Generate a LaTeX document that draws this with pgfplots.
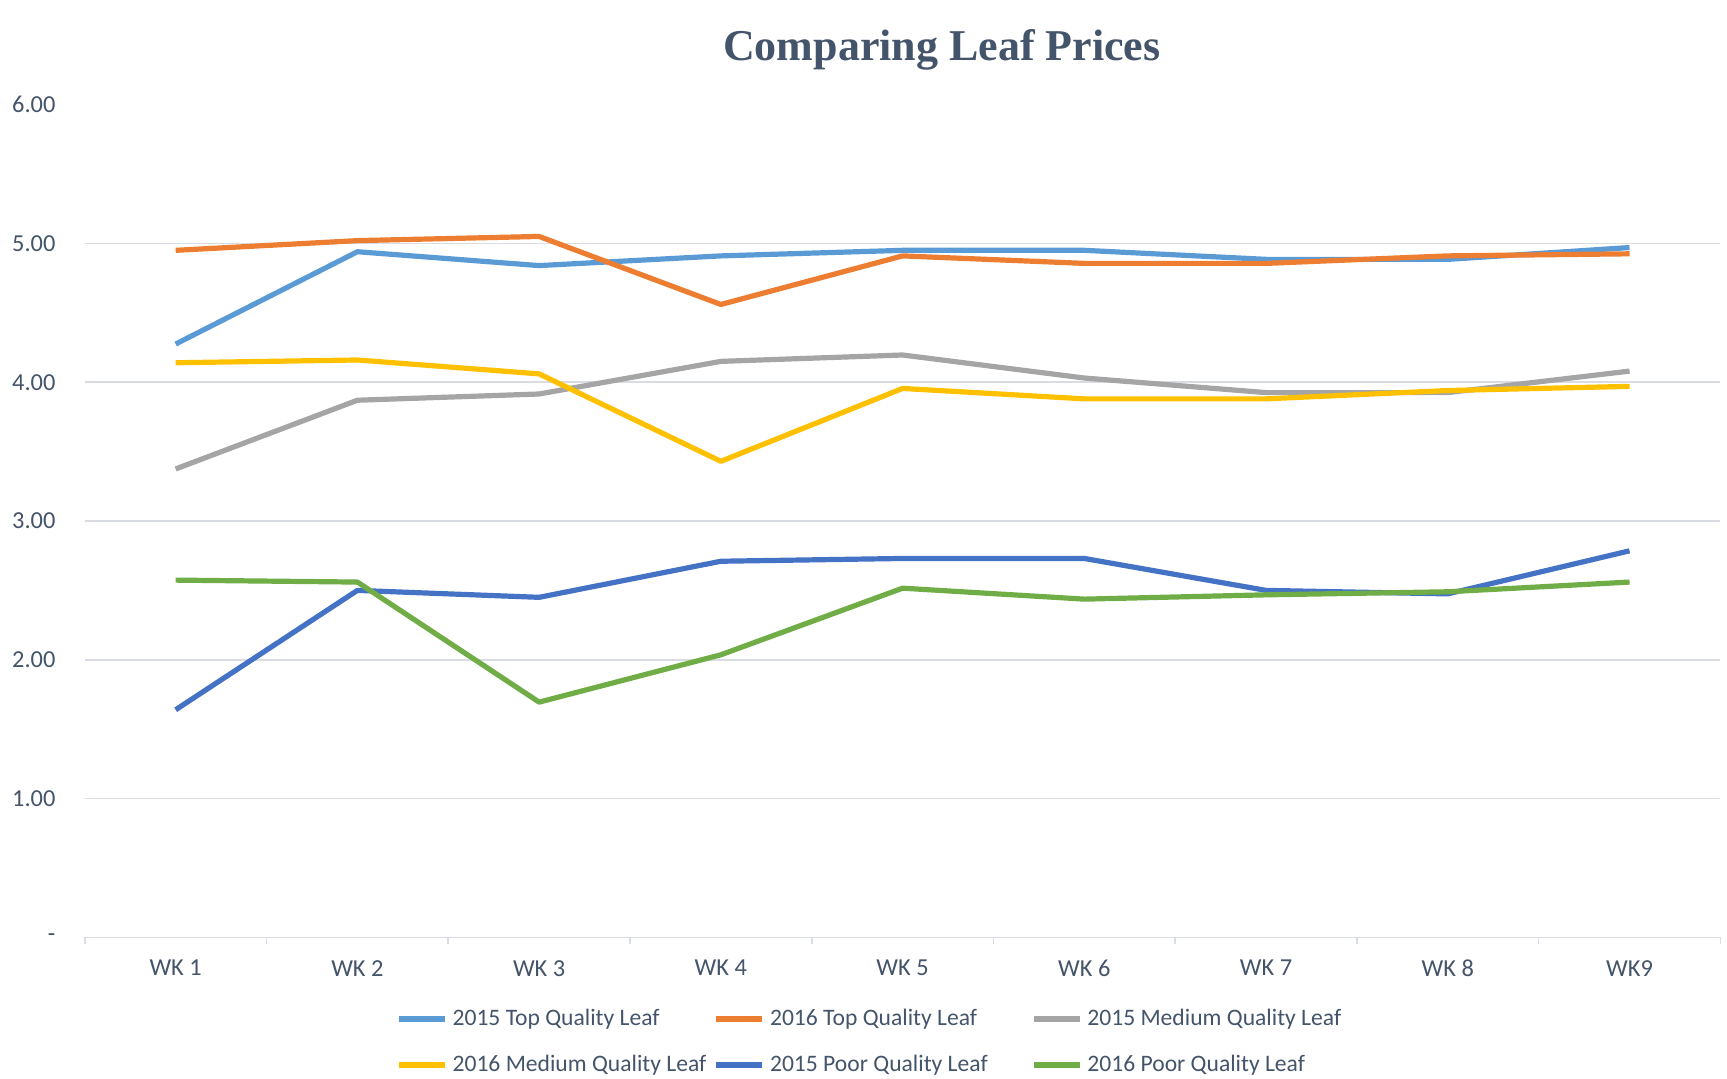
\documentclass[border=0pt]{standalone}
\usepackage{pgfplots}
\pgfplotsset{compat=1.18}
\usepackage{fontspec}
\setmainfont{Carlito}
\newfontfamily\titlefont{Liberation Serif}
\definecolor{txt}{HTML}{44546A}
\definecolor{grd}{HTML}{D9DDE3}
\definecolor{cA}{HTML}{5B9BD5}
\definecolor{cB}{HTML}{ED7D31}
\definecolor{cC}{HTML}{A5A5A5}
\definecolor{cD}{HTML}{FFC000}
\definecolor{cE}{HTML}{4472C4}
\definecolor{cF}{HTML}{70AD47}
\begin{document}
\begin{tikzpicture}
\begin{axis}[
  scale only axis,
  width=817.8pt, height=416.4pt,
  xmin=0.5, xmax=9.5, ymin=0, ymax=6,
  axis x line*=bottom,
  axis y line*=left,
  y axis line style={draw=none},
  x axis line style={draw=grd, line width=0.8pt},
  xtick={1,...,9},
  xticklabels={WK 1,WK 2,WK 3,WK 4,WK 5,WK 6,WK 7,WK 8,WK9},
  major x tick style={draw=none},
  minor xtick={0.5,1.5,...,9.5},
  minor x tick style={draw=grd, line width=0.8pt},
  minor tick length=3.5pt,
  tick align=outside,
  ytick={0,1,...,6},
  yticklabels={{-\hspace{8.3pt}},1.00,2.00,3.00,4.00,5.00,6.00},
  major y tick style={draw=none},
  extra y ticks={1,2,3,4,5},
  extra y tick labels={},
  extra y tick style={grid=major, major grid style={draw=grd, line width=0.8pt}, major tick length=0pt},
  tick label style={font=\fontsize{12.2}{14}\selectfont, text=txt},
  yticklabel style={xshift=-6.9pt},
  xticklabel style={yshift=-3.65pt},
  title={\titlefont\bfseries\fontsize{22}{26}\selectfont Comparing Leaf Prices},
  title style={at={(0.524,1)}, anchor=base, yshift=15.8pt, text=txt, inner sep=0pt},
  legend columns=3,
  legend cell align=left,
  legend style={draw=none, fill=none, at={(0.190,0)}, anchor=north west, yshift=-33.65pt,
    inner sep=0pt, font=\fontsize{11.8}{14}\selectfont, text=txt,
    row sep=9.5pt,
    /tikz/every odd column/.append style={column sep=0.5pt},
    /tikz/column 2/.append style={column sep=1.5pt},
    /tikz/column 4/.append style={column sep=19.5pt}},
  legend image code/.code={\draw[#1, line width=2.8pt] (0pt,0pt) -- (23pt,0pt);},
  every axis plot/.append style={line width=2.6pt, line join=round},
  clip=false,
]
\addplot[cA] coordinates {(1,4.275) (2,4.94) (3,4.84) (4,4.91) (5,4.95) (6,4.95) (7,4.885) (8,4.885) (9,4.97)};
\addlegendentry{2015 Top Quality Leaf}
\addplot[cB] coordinates {(1,4.95) (2,5.02) (3,5.05) (4,4.56) (5,4.91) (6,4.856) (7,4.856) (8,4.91) (9,4.925)};
\addlegendentry{2016 Top Quality Leaf}
\addplot[cC] coordinates {(1,3.375) (2,3.87) (3,3.915) (4,4.15) (5,4.196) (6,4.03) (7,3.925) (8,3.925) (9,4.08)};
\addlegendentry{2015 Medium Quality Leaf}
\addplot[cD] coordinates {(1,4.14) (2,4.16) (3,4.06) (4,3.43) (5,3.955) (6,3.88) (7,3.88) (8,3.94) (9,3.97)};
\addlegendentry{2016 Medium Quality Leaf}
\addplot[cE] coordinates {(1,1.64) (2,2.50) (3,2.45) (4,2.71) (5,2.73) (6,2.73) (7,2.50) (8,2.475) (9,2.785)};
\addlegendentry{2015 Poor Quality Leaf}
\addplot[cF] coordinates {(1,2.574) (2,2.56) (3,1.695) (4,2.036) (5,2.516) (6,2.437) (7,2.468) (8,2.49) (9,2.56)};
\addlegendentry{2016 Poor Quality Leaf}
\end{axis}
\pgfresetboundingbox
\path[use as bounding box] ([xshift=-42.4pt,yshift=-70.35pt]current axis.south west) rectangle ([xshift=3.3pt,yshift=52.3pt]current axis.north east);
\end{tikzpicture}
\end{document}
